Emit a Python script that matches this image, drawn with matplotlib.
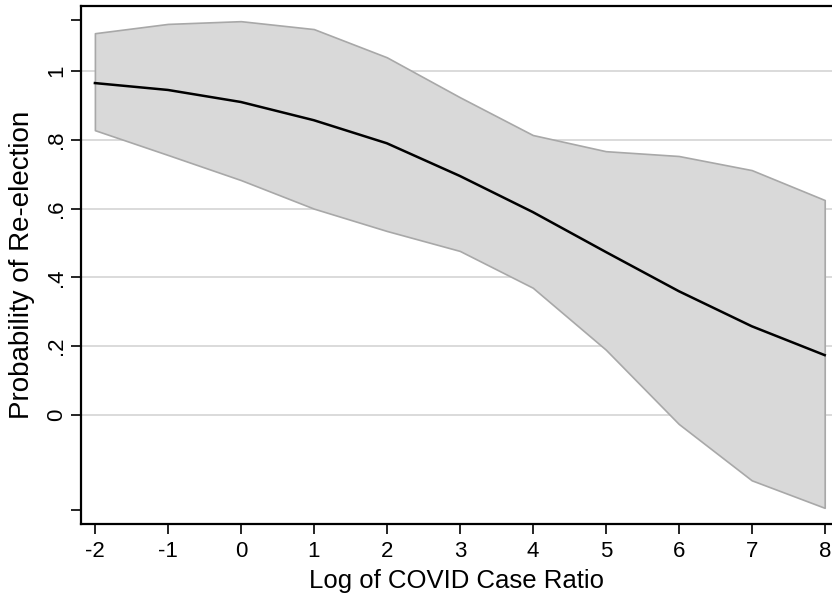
import numpy as np
import matplotlib.pyplot as plt

plt.rcParams['font.family'] = ['Liberation Sans', 'DejaVu Sans']

# predicted probabilities with 95% CI
log_ratio = [-2, -1, 0, 1, 2, 3, 4, 5, 6, 7, 8]
prob = [0.965, 0.945, 0.910, 0.857, 0.790, 0.695, 0.590, 0.474, 0.360, 0.258, 0.174]
ci_upper = [1.110, 1.137, 1.145, 1.122, 1.040, 0.924, 0.814, 0.767, 0.753, 0.712, 0.625]
ci_lower = [0.828, 0.756, 0.683, 0.600, 0.535, 0.477, 0.370, 0.190, -0.026, -0.190, -0.270]

yticks = [0, 0.2, 0.4, 0.6, 0.8, 1]
ytick_labels = ['0', '.2', '.4', '.6', '.8', '1']
xticks = [-2, -1, 0, 1, 2, 3, 4, 5, 6, 7, 8]

fig = plt.figure(figsize=(8.32, 6.03), dpi=100)
ax = fig.add_axes([0.0974, 0.131, 0.9026, 0.859])

ax.fill_between(log_ratio, ci_lower, ci_upper, facecolor='#d9d9d9',
                edgecolor='#a8a8a8', linewidth=1.2, zorder=2)
ax.plot(log_ratio, prob, color='black', linewidth=1.8, zorder=3)

ax.set_xlim(-2.19, 8.1)
ax.set_ylim(-0.317, 1.189)

ax.set_xticks(xticks)
ax.set_xticklabels([str(v) for v in xticks])
ax.set_yticks(yticks)
ax.set_yticklabels(ytick_labels, rotation=90, va='center')
ax.set_yticks([-0.276, 1.148], minor=True)

ax.tick_params(axis='both', which='both', direction='out', length=7,
               width=1.2, labelsize=16, color='black')
ax.tick_params(axis='y', pad=3)
ax.tick_params(axis='x', pad=5)
ax.yaxis.grid(True, which='major', color='#d4d4d4', linewidth=1.2, zorder=1)
ax.set_axisbelow(True)

for side in ['left', 'bottom', 'top']:
    ax.spines[side].set_linewidth(1.6)
ax.spines['right'].set_visible(False)

ax.set_xlabel('Log of COVID Case Ratio', fontsize=18.5, labelpad=5)
ax.set_ylabel('Probability of Re-election', fontsize=20, labelpad=8)

plt.savefig('out.png', dpi=100)
